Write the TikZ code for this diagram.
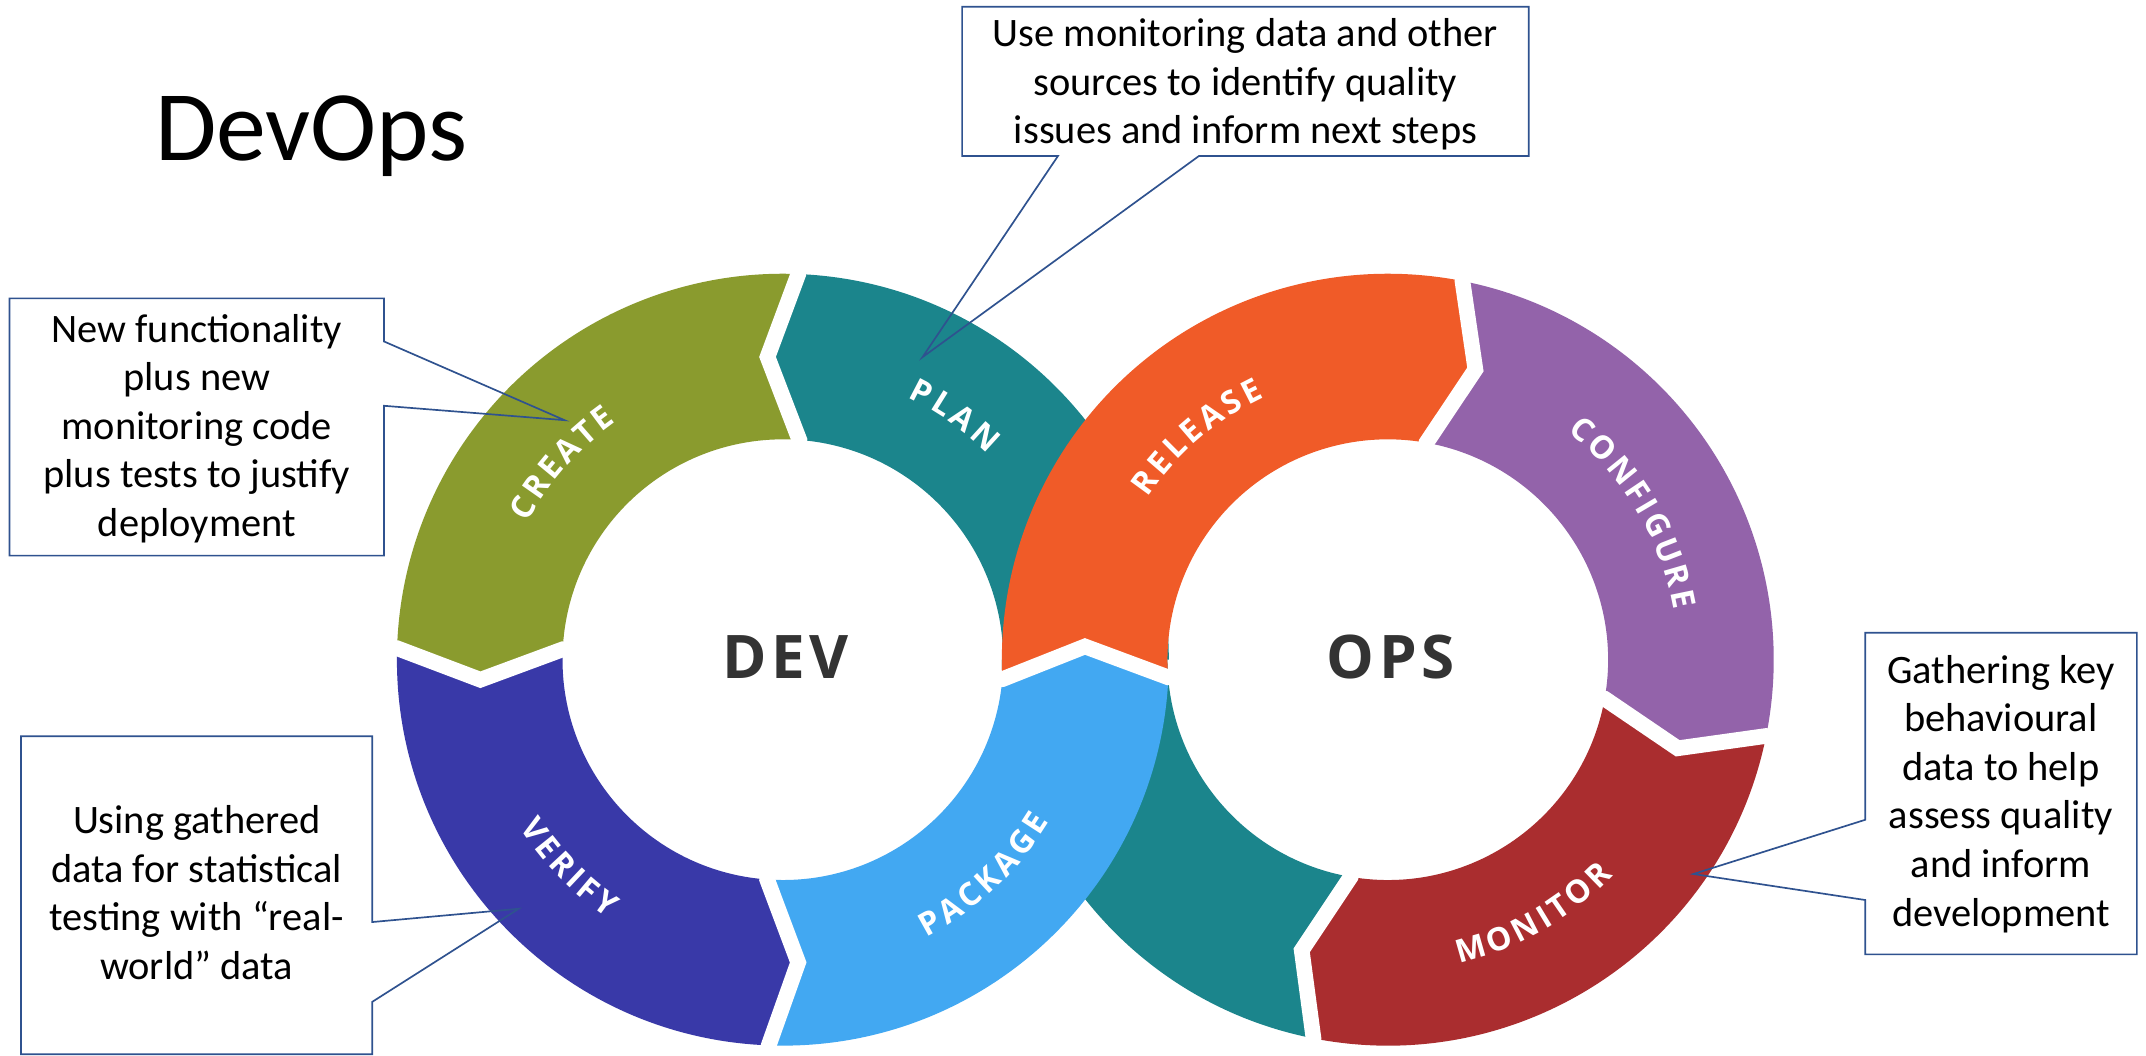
\documentclass[tikz,border=0pt]{standalone}
\usepackage{fontspec}
\setmainfont{Carlito}
\newfontfamily\opensans{Open Sans}
\newfontfamily\hubfont{Open Sans}[LetterSpace=8]
\usetikzlibrary{decorations.text}

\definecolor{createGreen}{RGB}{138,155,46}
\definecolor{planTeal}{RGB}{27,133,140}
\definecolor{verifyBlue}{RGB}{57,57,168}
\definecolor{packageBlue}{RGB}{66,168,242}
\definecolor{releaseOrange}{RGB}{240,91,40}
\definecolor{configPurple}{RGB}{147,99,170}
\definecolor{monitorRed}{RGB}{170,45,47}
\definecolor{noteBlue}{RGB}{47,82,143}
\definecolor{hubGrey}{RGB}{51,51,51}

\newcommand{\lblfont}{\opensans\bfseries\fontsize{13.3}{15}\selectfont}

\begin{document}
\begin{tikzpicture}[x=0.02cm,y=0.02cm,
  gap/.style={draw=white,line width=6.5pt},
  note/.style={draw=noteBlue,line width=0.7pt},
  notetext/.style={align=center,font=\fontsize{16.8}{20.2}\selectfont},
  hub/.style={font=\hubfont\bfseries\fontsize{25}{30}\selectfont,text=hubGrey},
  ringlabel/.style={font=\lblfont,decorate,decoration={text along path,text color=white,text align={fit to path}}}]
	\useasboundingbox (0,0) rectangle (1568,771);
	\fill[white] (0,0) rectangle (1568,771);
	
	\node[anchor=base west,inner sep=0pt,font=\fontsize{41.5}{50}\selectfont] (title) at (113,654) {DevOps};
	
	% teal band, goes under the crossing
	\begin{scope}[shift={(572,289)}]
		\fill[planTeal] (0:282) arc[start angle=0,end angle=87.7,radius=282] -- (92.9:221.5) -- (85.7:161) arc[start angle=85.7,end angle=0,radius=161] -- cycle;
	\end{scope}
	\begin{scope}[shift={(1014,289)}]
		\fill[planTeal] (-101.1:282) arc[start angle=-101.1,end angle=-180,radius=282] -- (-180:161) arc[start angle=-180,end angle=-99.7,radius=161] -- (-106.5:221.5) -- cycle;
	\end{scope}
	
	% dev ring
	\begin{scope}[shift={(572,289)}]
		\fill[createGreen] (87.7:282) arc[start angle=87.7,end angle=178.3,radius=282] -- (183.8:221.5) -- (177.3:161) arc[start angle=177.3,end angle=85.7,radius=161] -- (92.9:221.5) -- cycle;
		\fill[verifyBlue] (178.3:282) arc[start angle=178.3,end angle=267.9,radius=282] -- (272.9:221.5) -- (265.9:161) arc[start angle=265.9,end angle=177.3,radius=161] -- (183.8:221.5) -- cycle;
		\fill[packageBlue] (267.9:282) arc[start angle=267.9,end angle=357.4,radius=282] -- (362.45:221.5) -- (354.9:161) arc[start angle=354.9,end angle=265.9,radius=161] -- (272.9:221.5) -- cycle;
		
		\draw[gap] (87.7:297) -- (87.7:282) -- (92.9:221.5) -- (85.7:161) -- (85.7:146);
		\draw[gap] (178.3:297) -- (178.3:282) -- (183.8:221.5) -- (177.3:161) -- (177.3:146);
		\draw[gap] (267.9:297) -- (267.9:282) -- (272.9:221.5) -- (265.9:161) -- (265.9:146);
	\end{scope}
	
	% ops ring
	\begin{scope}[shift={(1014,289)}]
		\fill[releaseOrange] (182.9:282) arc[start angle=182.9,end angle=78.85,radius=282] -- (73.2:221.5) -- (79.9:161) arc[start angle=79.9,end angle=184.6,radius=161] -- (177.5:221.5) -- cycle;
		\fill[configPurple] (78.85:282) arc[start angle=78.85,end angle=-11.4,radius=282] -- (-17:221.5) -- (-10.2:161) arc[start angle=-10.2,end angle=79.9,radius=161] -- (73.2:221.5) -- cycle;
		\fill[monitorRed] (-11.4:282) arc[start angle=-11.4,end angle=-101.1,radius=282] -- (-106.5:221.5) -- (-99.7:161) arc[start angle=-99.7,end angle=-10.2,radius=161] -- (-17:221.5) -- cycle;
		
		\draw[gap] (182.9:297) -- (182.9:282) -- (177.5:221.5) -- (184.6:161) -- (184.6:146);
		\draw[gap] (78.85:297) -- (78.85:282) -- (73.2:221.5) -- (79.9:161) -- (79.9:146);
		\draw[gap] (-11.4:297) -- (-11.4:282) -- (-17:221.5) -- (-10.2:161) -- (-10.2:146);
		\draw[gap] (-101.1:297) -- (-101.1:282) -- (-106.5:221.5) -- (-99.7:161) -- (-99.7:146);
	\end{scope}
	
	% ring labels
	\begin{scope}[shift={(572,289)}]
		\path[ringlabel,decoration={text={|\lblfont|PLAN}}] (64.5:212) arc[start angle=64.5,end angle=45.1,radius=212];
		\path[ringlabel,decoration={text={|\lblfont|CREATE}}] (151.8:212) arc[start angle=151.8,end angle=125,radius=212];
		\path[ringlabel,decoration={text={|\lblfont|VERIFY}}] (212.6:228) arc[start angle=212.6,end angle=235.8,radius=228];
		\path[ringlabel,decoration={text={|\lblfont|PACKAGE}}] (-62.7:228) arc[start angle=-62.7,end angle=-31.3,radius=228];
	\end{scope}
	\begin{scope}[shift={(1014,289)}]
		\path[ringlabel,decoration={text={|\lblfont|RELEASE}}] (146:212) arc[start angle=146,end angle=115.2,radius=212];
		\path[ringlabel,decoration={text={|\lblfont|CONFIGURE}}] (51.8:212) arc[start angle=51.8,end angle=9.9,radius=212];
		\path[ringlabel,decoration={text={|\lblfont|MONITOR}}] (-76.8:228) arc[start angle=-76.8,end angle=-43.7,radius=228];
	\end{scope}
	
	\node[hub,anchor=base] (dev) at (574,275) {DEV};
	\node[hub,anchor=base] (ops) at (1016,275) {OPS};
	
	% notes
	\node[notetext] (planNote) at (910,709.4) {Use monitoring data and other\\sources to identify quality\\issues and inform next steps};
	\node[notetext] (createNote) at (143.8,457.9) {New functionality\\plus new\\monitoring code\\plus tests to justify\\deployment};
	\node[notetext] (verifyNote) at (143.7,118.8) {Using gathered\\data for statistical\\testing with “real-\\world” data};
	\node[notetext] (monitorNote) at (1462,190.9) {Gathering key\\behavioural\\data to help\\assess quality\\and inform\\development};
	
	\coordinate (planTip) at (674,510);
	\coordinate (createTip) at (412.5,464);
	\coordinate (verifyTip) at (379,107);
	\coordinate (monitorTip) at (1237.3,132.4);
	
	\draw[note] (703,766) -- (1117,766) -- (1117,657) -- (876,657) -- (planTip) -- (773,657) -- (703,657) -- cycle;
	\draw[note] (7,553) -- (280.6,553) -- (280.6,521.5) -- (createTip) -- (280.6,474.5) -- (280.6,365) -- (7,365) -- cycle;
	\draw[note] (15.4,233) -- (272,233) -- (272,97.3) -- (verifyTip) -- (272,39) -- (272,0.7) -- (15.4,0.7) -- cycle;
	\draw[note] (1362.8,308.7) -- (1561.3,308.7) -- (1561.3,73.7) -- (1362.8,73.7) -- (1362.8,113.4) -- (monitorTip) -- (1362.8,172) -- cycle;
\end{tikzpicture}
\end{document}
